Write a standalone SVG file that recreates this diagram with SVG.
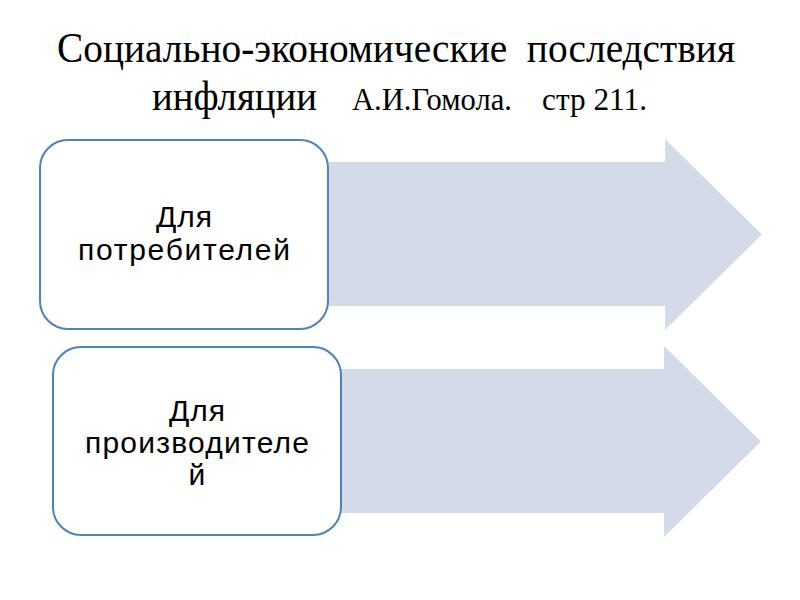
<svg xmlns="http://www.w3.org/2000/svg" width="800" height="600" viewBox="0 0 800 600">
<style>
.title{font-family:"Liberation Serif","Times New Roman",serif;fill:#000}
.box{fill:#fff;stroke:#4F81BD;stroke-width:2}
.arrow{fill:#D3DBE8}
.lbl{font-family:"Liberation Sans",Arial,sans-serif;font-size:30px;fill:#000;text-anchor:middle}
</style>
<rect width="800" height="600" fill="#fff"/>
<g id="title">
<text class="title" x="57" y="62" font-size="42" textLength="678" lengthAdjust="spacingAndGlyphs" xml:space="preserve">Социально-экономические  последствия</text>
<text class="title" x="152" y="110" font-size="42" textLength="165" lengthAdjust="spacingAndGlyphs">инфляции</text>
<text class="title" x="352" y="110" font-size="31" textLength="160" lengthAdjust="spacingAndGlyphs">А.И.Гомола.</text>
<text class="title" x="542" y="110" font-size="31" textLength="105" lengthAdjust="spacingAndGlyphs">стр 211.</text>
</g>
<g id="connectors">
<polygon class="arrow" points="300,162 665,162 665,139 762,234.5 665,330 665,306 300,306"/>
<polygon class="arrow" points="310,369 664,369 664,346 761,441.5 664,537 664,513 310,513"/>
</g>
<g id="node-consumers">
<rect class="box" x="40" y="140" width="288" height="189" rx="28" ry="28"/>
<text class="lbl" x="184" y="227" textLength="56">Для</text>
<text class="lbl" x="184" y="260" textLength="212">потребителей</text>
</g>
<g id="node-producers">
<rect class="box" x="53" y="347" width="288" height="188" rx="28" ry="28"/>
<text class="lbl" x="197" y="421" textLength="56">Для</text>
<text class="lbl" x="197" y="453" textLength="224">производителе</text>
<text class="lbl" x="197" y="485">й</text>
</g>
</svg>
